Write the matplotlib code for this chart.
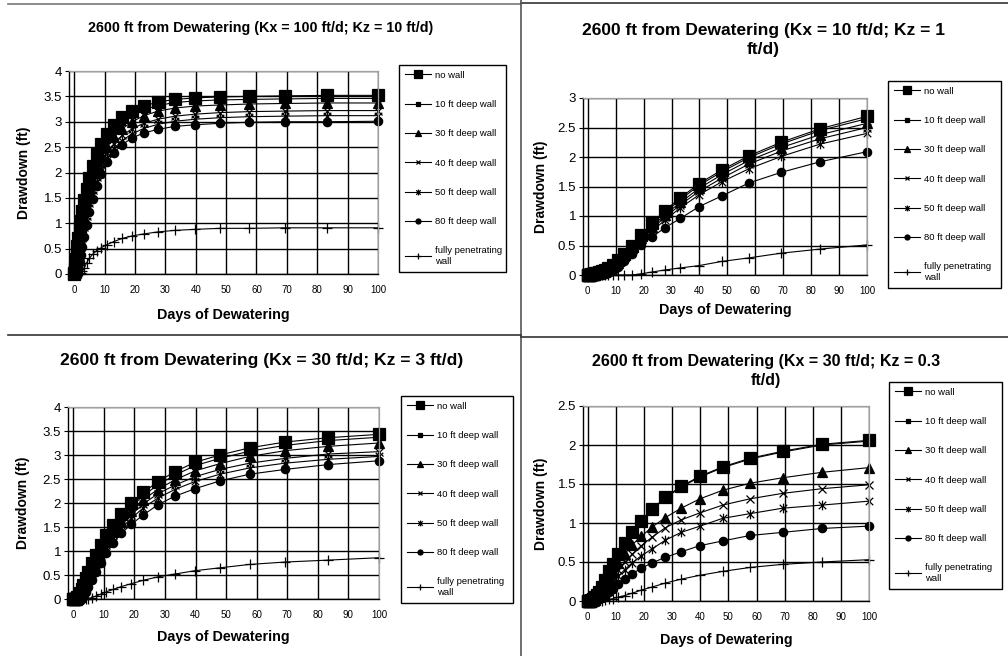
import matplotlib
matplotlib.use("Agg")
import numpy as np
import matplotlib.pyplot as plt
from matplotlib.lines import Line2D
from matplotlib.path import Path

plt.rcParams["font.family"] = ["Liberation Sans", "DejaVu Sans"]

W, H = 1008, 656   # figure size in pixels

# time steps (days), same for every run
days = [0, 0.085, 0.19, 0.31, 0.45, 0.63, 0.84, 1.09, 1.4, 1.76, 2.2, 2.72, 3.35, 4.1, 5.0,
        6.1, 7.4, 8.96, 10.84, 13.09, 15.79, 19.04, 22.93, 27.6, 33.2, 39.9, 48.0, 57.7,
        69.3, 83.3, 100]

series_names = ["no wall", "10 ft deep wall", "30 ft deep wall", "40 ft deep wall",
                "50 ft deep wall", "80 ft deep wall", "fully penetrating\nwall"]

# Kx = 100 ft/d; Kz = 10 ft/d
k100_no_wall = [0, 0.02, 0.06, 0.12, 0.2, 0.3, 0.42, 0.55, 0.7, 0.87, 1.05, 1.25, 1.46, 1.68, 1.9,
                2.13, 2.36, 2.57, 2.76, 2.94, 3.09, 3.21, 3.31, 3.39, 3.44, 3.47, 3.49, 3.5, 3.51, 3.52, 3.52]
k100_w10 = [0, 0.01, 0.02, 0.05, 0.1, 0.17, 0.26, 0.37, 0.51, 0.67, 0.85, 1.05, 1.27, 1.5, 1.74,
            1.98, 2.22, 2.45, 2.65, 2.84, 3.0, 3.13, 3.24, 3.32, 3.38, 3.41, 3.43, 3.44, 3.45, 3.46, 3.46]
k100_w30 = [0, 0, 0.01, 0.02, 0.04, 0.08, 0.14, 0.22, 0.33, 0.47, 0.63, 0.82, 1.04, 1.28, 1.53,
            1.79, 2.04, 2.28, 2.5, 2.69, 2.86, 3.0, 3.12, 3.21, 3.27, 3.31, 3.33, 3.35, 3.36, 3.37, 3.37]
k100_w40 = [0, 0, 0, 0.01, 0.02, 0.05, 0.1, 0.17, 0.26, 0.38, 0.53, 0.71, 0.92, 1.15, 1.4,
            1.66, 1.92, 2.16, 2.38, 2.57, 2.73, 2.86, 2.97, 3.05, 3.11, 3.15, 3.18, 3.2, 3.21, 3.22, 3.22]
k100_w50 = [0, 0, 0, 0, 0.01, 0.03, 0.07, 0.12, 0.2, 0.31, 0.45, 0.62, 0.82, 1.05, 1.3,
            1.56, 1.82, 2.06, 2.28, 2.47, 2.63, 2.76, 2.87, 2.95, 3.01, 3.05, 3.08, 3.1, 3.11, 3.12, 3.12]
k100_w80 = [0, 0, 0, 0, 0.01, 0.02, 0.04, 0.08, 0.14, 0.24, 0.37, 0.53, 0.73, 0.96, 1.22,
            1.48, 1.74, 1.98, 2.2, 2.39, 2.55, 2.68, 2.78, 2.85, 2.91, 2.94, 2.97, 2.99, 3.0, 3.0, 3.01]
k100_full = [0, 0, 0, 0, 0, 0, 0, 0, 0, 0, 0.01, 0.05, 0.12, 0.22, 0.31,
             0.39, 0.46, 0.52, 0.58, 0.64, 0.7, 0.75, 0.79, 0.83, 0.86, 0.88, 0.9, 0.9, 0.91, 0.91, 0.91]

# Kx = 10 ft/d; Kz = 1 ft/d
k10_no_wall = [0, 0, 0, 0, 0, 0, 0, 0.01, 0.01, 0.01, 0.02, 0.03, 0.04, 0.05, 0.07,
               0.09, 0.12, 0.17, 0.25, 0.36, 0.5, 0.67, 0.88, 1.09, 1.31, 1.55, 1.78, 2.02, 2.25, 2.48, 2.69]
k10_w10 = [0, 0, 0, 0, 0, 0, 0, 0, 0, 0.01, 0.01, 0.02, 0.03, 0.04, 0.05,
           0.07, 0.1, 0.15, 0.23, 0.34, 0.48, 0.65, 0.86, 1.06, 1.28, 1.52, 1.75, 1.99, 2.22, 2.45, 2.65]
k10_w30 = [0, 0, 0, 0, 0, 0, 0, 0, 0, 0, 0, 0, 0.01, 0.02, 0.03,
           0.05, 0.08, 0.13, 0.21, 0.32, 0.46, 0.62, 0.82, 1.02, 1.23, 1.47, 1.7, 1.94, 2.16, 2.38, 2.57]
k10_w40 = [0, 0, 0, 0, 0, 0, 0, 0, 0, 0, 0, 0, 0, 0.01, 0.02,
           0.04, 0.06, 0.11, 0.19, 0.29, 0.43, 0.59, 0.78, 0.98, 1.19, 1.42, 1.64, 1.88, 2.1, 2.31, 2.5]
k10_w50 = [0, 0, 0, 0, 0, 0, 0, 0, 0, 0, 0, 0, 0, 0.01, 0.02,
           0.03, 0.05, 0.1, 0.17, 0.27, 0.41, 0.56, 0.74, 0.93, 1.14, 1.36, 1.58, 1.8, 2.01, 2.22, 2.4]
k10_w80 = [0, 0, 0, 0, 0, 0, 0, 0, 0, 0, 0, 0, 0, 0, 0.01,
           0.02, 0.04, 0.08, 0.14, 0.24, 0.36, 0.51, 0.64, 0.8, 0.96, 1.16, 1.34, 1.56, 1.74, 1.92, 2.09]
k10_full = [0, 0, 0, 0, 0, 0, 0, 0, 0, 0, 0, 0, 0, 0, 0,
            0, 0, 0, 0, 0, 0, 0.02, 0.05, 0.085, 0.12, 0.16, 0.23, 0.29, 0.37, 0.44, 0.51]

# Kx = 30 ft/d; Kz = 3 ft/d
k30_no_wall = [0, 0, 0, 0, 0, 0, 0.01, 0.02, 0.04, 0.07, 0.12, 0.2, 0.3, 0.43, 0.57,
               0.74, 0.92, 1.12, 1.34, 1.55, 1.78, 2.0, 2.22, 2.44, 2.65, 2.85, 3.0, 3.15, 3.27, 3.36, 3.43]
k30_w10 = [0, 0, 0, 0, 0, 0, 0, 0.01, 0.02, 0.05, 0.09, 0.15, 0.24, 0.36, 0.49,
           0.66, 0.84, 1.04, 1.26, 1.47, 1.7, 1.92, 2.16, 2.37, 2.58, 2.78, 2.93, 3.08, 3.2, 3.3, 3.37]
k30_w30 = [0, 0, 0, 0, 0, 0, 0, 0, 0.01, 0.03, 0.06, 0.11, 0.19, 0.3, 0.43,
           0.59, 0.77, 0.97, 1.19, 1.4, 1.62, 1.84, 2.07, 2.28, 2.48, 2.67, 2.82, 2.97, 3.09, 3.18, 3.25]
k30_w40 = [0, 0, 0, 0, 0, 0, 0, 0, 0, 0.01, 0.03, 0.07, 0.14, 0.24, 0.36,
           0.52, 0.7, 0.9, 1.12, 1.33, 1.55, 1.76, 1.98, 2.19, 2.37, 2.55, 2.7, 2.83, 2.93, 3.02, 3.07]
k30_w50 = [0, 0, 0, 0, 0, 0, 0, 0, 0, 0, 0.02, 0.05, 0.11, 0.2, 0.32,
           0.47, 0.65, 0.85, 1.06, 1.27, 1.48, 1.68, 1.9, 2.1, 2.28, 2.45, 2.6, 2.73, 2.83, 2.91, 2.97]
k30_w80 = [0, 0, 0, 0, 0, 0, 0, 0, 0, 0, 0.01, 0.03, 0.07, 0.14, 0.25,
           0.39, 0.56, 0.76, 0.96, 1.17, 1.37, 1.56, 1.75, 1.96, 2.14, 2.3, 2.46, 2.6, 2.7, 2.8, 2.88]
k30_full = [0, 0, 0, 0, 0, 0, 0, 0, 0, 0, 0, 0, 0, 0, 0.01,
            0.03, 0.06, 0.1, 0.15, 0.2, 0.26, 0.32, 0.39, 0.46, 0.52, 0.59, 0.65, 0.72, 0.77, 0.81, 0.86]

# Kx = 30 ft/d; Kz = 0.3 ft/d
k03_no_wall = [0, 0, 0, 0, 0, 0, 0, 0.01, 0.01, 0.02, 0.03, 0.05, 0.08, 0.12, 0.18,
               0.27, 0.38, 0.48, 0.6, 0.74, 0.88, 1.03, 1.18, 1.33, 1.47, 1.6, 1.72, 1.83, 1.92, 2.01, 2.06]
k03_w10 = [0, 0, 0, 0, 0, 0, 0, 0, 0.01, 0.02, 0.03, 0.05, 0.08, 0.12, 0.17,
           0.26, 0.37, 0.47, 0.59, 0.73, 0.87, 1.02, 1.17, 1.32, 1.46, 1.59, 1.71, 1.82, 1.91, 2.0, 2.05]
k03_w30 = [0, 0, 0, 0, 0, 0, 0, 0, 0, 0, 0.01, 0.03, 0.05, 0.08, 0.13,
           0.2, 0.29, 0.38, 0.49, 0.6, 0.72, 0.83, 0.95, 1.07, 1.19, 1.31, 1.42, 1.51, 1.58, 1.65, 1.71]
k03_w40 = [0, 0, 0, 0, 0, 0, 0, 0, 0, 0, 0, 0.01, 0.03, 0.06, 0.1,
           0.16, 0.23, 0.31, 0.4, 0.5, 0.6, 0.71, 0.82, 0.94, 1.04, 1.13, 1.23, 1.31, 1.38, 1.44, 1.49]
k03_w50 = [0, 0, 0, 0, 0, 0, 0, 0, 0, 0, 0, 0.01, 0.02, 0.04, 0.08,
           0.12, 0.18, 0.25, 0.32, 0.4, 0.49, 0.58, 0.67, 0.78, 0.88, 0.96, 1.06, 1.12, 1.19, 1.23, 1.28]
k03_w80 = [0, 0, 0, 0, 0, 0, 0, 0, 0, 0, 0, 0, 0.01, 0.02, 0.04,
           0.07, 0.11, 0.16, 0.22, 0.28, 0.35, 0.42, 0.49, 0.56, 0.63, 0.71, 0.77, 0.84, 0.88, 0.93, 0.96]
k03_full = [0, 0, 0, 0, 0, 0, 0, 0, 0, 0, 0, 0, 0, 0, 0,
            0.01, 0.02, 0.03, 0.05, 0.07, 0.1, 0.14, 0.18, 0.23, 0.28, 0.33, 0.38, 0.43, 0.47, 0.5, 0.53]

# excel style "star" marker: an x with a vertical bar through it
star = Path([(-1, -1), (1, 1), (-1, 1), (1, -1), (0, -1.3), (0, 1.3)],
            [Path.MOVETO, Path.LINETO, Path.MOVETO, Path.LINETO, Path.MOVETO, Path.LINETO])

# marker, size, filled
styles = [("s", 8.5, True), ("s", 4.5, True), ("^", 6.5, True), ("x", 6, False),
          (star, 7, False), ("o", 6, True), ("+", 7, False)]

panels = [
    dict(title="2600 ft from Dewatering (Kx = 100 ft/d; Kz = 10 ft/d)", tpos=(261, 28), tsize=10.3,
         box=(69, 71, 378, 274), leg=(399, 65, 506, 273), ymax=4,
         data=[k100_no_wall, k100_w10, k100_w30, k100_w40, k100_w50, k100_w80, k100_full]),
    dict(title="2600 ft from Dewatering (Kx = 10 ft/d; Kz = 1\nft/d)", tpos=(763, 40), tsize=12.5,
         box=(583, 98, 867, 275), leg=(888, 81, 1001, 287), ymax=3,
         data=[k10_no_wall, k10_w10, k10_w30, k10_w40, k10_w50, k10_w80, k10_full]),
    dict(title="2600 ft from Dewatering (Kx = 30 ft/d; Kz = 3 ft/d)", tpos=(262, 360), tsize=12.6,
         box=(68, 407, 379, 599), leg=(401, 396, 513, 602), ymax=4,
         data=[k30_no_wall, k30_w10, k30_w30, k30_w40, k30_w50, k30_w80, k30_full]),
    dict(title="2600 ft from Dewatering (Kx = 30 ft/d; Kz = 0.3\nft/d)", tpos=(766, 371), tsize=11.5,
         box=(583, 406, 869, 601), leg=(889, 382, 1002, 588), ymax=2.5,
         data=[k03_no_wall, k03_w10, k03_w30, k03_w40, k03_w50, k03_w80, k03_full]),
]


def fig_rect(l, t, r, b):
    return [l / W, 1 - b / H, (r - l) / W, (b - t) / H]


fig = plt.figure(figsize=(W / 100, H / 100), dpi=100)
fig.patch.set_facecolor("white")

for p in panels:
    ax = fig.add_axes(fig_rect(*p["box"]))
    lines = []
    for vals, (mk, ms, filled) in zip(p["data"], styles):
        ln, = ax.plot(days, vals, color="black", lw=0.8, marker=mk, ms=ms,
                      mfc="black" if filled else "none", mec="black", mew=0.9, clip_on=False)
        lines.append(ln)

    ax.set_xlim(-1.7, 100)
    ax.set_ylim(0, p["ymax"])
    ax.set_xticks(range(0, 101, 10))
    yt = np.arange(0, p["ymax"] + 0.01, 0.5)
    ax.set_yticks(yt)
    ax.set_yticklabels(["{:g}".format(v) for v in yt])
    ax.grid(True, color="black", lw=1.0)
    ax.set_axisbelow(True)
    ax.tick_params(axis="y", length=3, width=0.8, pad=2, labelsize=9.5, direction="out")
    ax.tick_params(axis="x", length=0, pad=8, labelsize=7)
    for s in ("left", "bottom"):
        ax.spines[s].set_color("black")
        ax.spines[s].set_linewidth(1.0)
    for s in ("top", "right"):
        ax.spines[s].set_color("#a0a0a0")
        ax.spines[s].set_linewidth(0.9)

    ax.set_ylabel("Drawdown (ft)", fontsize=10, fontweight="bold")
    ax.yaxis.set_label_coords(-0.123, 0.5)
    ax.set_xlabel("Days of Dewatering", fontsize=10.3, fontweight="bold", va="center")
    ax.xaxis.set_label_coords(0.5, -0.2)

    x, y = p["tpos"]
    fig.text(x / W, 1 - y / H, p["title"], ha="center", va="center", fontsize=p["tsize"],
             fontweight="bold", linespacing=1.4)

    l, t, r, b = p["leg"]
    leg = fig.legend(lines, series_names, loc="upper left", mode="expand",
                     bbox_to_anchor=fig_rect(l, t, r, b), borderaxespad=0, fontsize=6.8,
                     markerscale=0.6, handlelength=2.8, handletextpad=0.4, labelspacing=2.15,
                     borderpad=0.6, fancybox=False, framealpha=1, edgecolor="black")
    leg.get_frame().set_linewidth(1.0)

# panel separator lines
seps = [((8, 521), (4, 4), "#777777"), ((521, 1008), (3, 3), "#333333"),
        ((521, 521), (0, 656), "#555555"),
        ((8, 521), (335, 335), "#333333"), ((521, 1008), (337, 337), "#333333")]
for xs, ys, c in seps:
    fig.add_artist(Line2D([v / W for v in xs], [1 - v / H for v in ys], color=c, lw=1.2))

fig.savefig("out.png", dpi=100)
